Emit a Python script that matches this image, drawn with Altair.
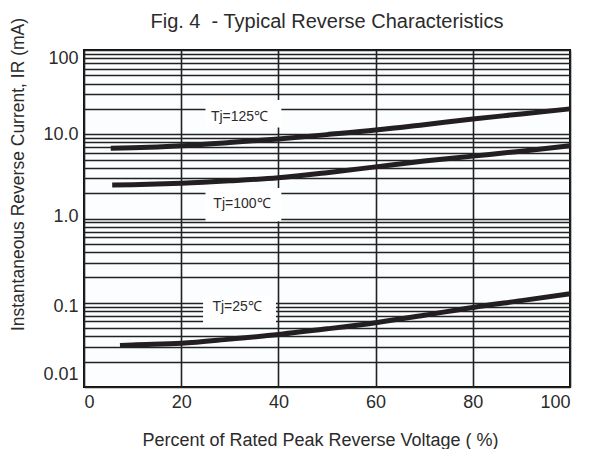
import altair as alt
import pandas as pd

# ---- data ----
x125 = [5.5, 10, 20, 30, 40, 50, 60, 70, 80, 90, 100]
y125 = [6.8, 6.9, 7.3, 8.0, 8.8, 9.9, 11.2, 13.0, 15.2, 17.4, 20.0]

x100 = [5.8, 10, 20, 30, 40, 50, 60, 70, 80, 90, 100]
y100 = [2.5, 2.52, 2.62, 2.8, 3.05, 3.5, 4.1, 4.8, 5.5, 6.3, 7.3]

x25 = [7.4, 10, 20, 30, 40, 50, 60, 70, 80, 90, 100]
y25 = [0.031, 0.0315, 0.033, 0.037, 0.042, 0.049, 0.058, 0.071, 0.088, 0.106, 0.128]

label_text = ["Tj=125\u2103", "Tj=100\u2103", "Tj=25\u2103"]
label_x = [32.0, 32.5, 31.5]
label_y = [16.0, 1.5, 0.088]
box_x1 = [25.0, 25.0, 24.5]
box_x2 = [40.6, 40.6, 39.5]
box_y1 = [12.0, 0.93, 0.056]
box_y2 = [25.5, 2.3, 0.12]

x_ticks = [0, 20, 40, 60, 80, 100]
y_grid = [k * 10.0 ** e for e in range(-2, 2) for k in range(1, 10)] + [100.0]

rows = []
for name, xs, ys in (("125", x125, y125), ("100", x100, y100), ("25", x25, y25)):
    for a, b in zip(xs, ys):
        rows.append({"series": name, "x": a, "y": b})
curves = pd.DataFrame(rows)
labels = pd.DataFrame({"text": label_text, "x": label_x, "y": label_y,
                       "x1": box_x1, "x2": box_x2, "y1": box_y1, "y2": box_y2})

FONT = "Liberation Sans"
TXT = "#2b2b2b"

xscale = alt.Scale(domain=[0, 100], nice=False)
yscale = alt.Scale(type="log", domain=[0.01, 100], nice=False)

label_expr = ("datum.value == 100 ? '100' : datum.value == 10 ? '10.0' : "
              "datum.value == 1 ? '1.0' : datum.value == 0.1 ? '0.1' : "
              "datum.value == 0.01 ? '0.01' : ''")

label_offset = {
    "condition": [
        {"test": "datum.value == 0.01", "value": -13},
        {"test": "datum.value == 100", "value": 8},
        {"test": "datum.value == 0.1", "value": 4},
        {"test": "datum.value == 1", "value": -2},
    ],
    "value": 0,
}

xaxis = alt.Axis(values=x_ticks, grid=True, gridColor="#222222", gridWidth=1.6,
                 ticks=False, domain=False, labelFont=FONT, labelFontSize=18,
                 labelColor=TXT, labelPadding=6,
                 title="Percent of Rated Peak Reverse Voltage ( %)",
                 titleFont=FONT, titleFontSize=18, titleFontWeight="normal",
                 titleColor=TXT, titleX=236, titleY=53, titleBaseline="middle")
yaxis = alt.Axis(values=y_grid, grid=True, gridColor="#222222", gridWidth=1.6,
                 ticks=False, domain=False, labelExpr=label_expr, labelOverlap=False,
                 labelFlush=False, labelFont=FONT, labelFontSize=18, labelColor=TXT,
                 labelPadding=6, labelOffset=label_offset,
                 title="Instantaneous Reverse Current, IR (mA)",
                 titleFont=FONT, titleFontSize=17.5, titleFontWeight="normal",
                 titleColor=TXT, titleX=-66, titleY=124, titleBaseline="middle",
                 titleAngle=270)

base_x = alt.X("x:Q", scale=xscale, axis=xaxis)
base_y = alt.Y("y:Q", scale=yscale, axis=yaxis)

boxes = alt.Chart(labels).mark_rect(color="white").encode(
    x=alt.X("x1:Q", scale=xscale), x2="x2:Q",
    y=alt.Y("y1:Q", scale=yscale), y2="y2:Q")

lines = alt.Chart(curves).mark_line(color="#231f20", strokeWidth=5, interpolate="monotone",
                                    strokeCap="butt").encode(
    x=base_x, y=base_y, detail="series:N")

texts = alt.Chart(labels).mark_text(font=FONT, fontSize=14, color=TXT).encode(
    x=alt.X("x:Q", scale=xscale), y=alt.Y("y:Q", scale=yscale), text="text:N")

chart = alt.layer(boxes, lines, texts).properties(
    width=486, height=337,
    title=alt.TitleParams("Fig. 4\u00a0\u00a0- Typical Reverse Characteristics", font=FONT,
                          fontSize=20, fontWeight="normal", color=TXT,
                          anchor="middle", frame="group", baseline="bottom",
                          offset=-35),
    autosize=alt.AutoSizeParams(type="none"),
    padding={"left": 76, "top": 42, "right": 17, "bottom": 62},
).configure_view(stroke="#111111", strokeWidth=2, fill="#fbfdff")

chart.save("out.html", embed_options={"renderer": "svg", "actions": False})
